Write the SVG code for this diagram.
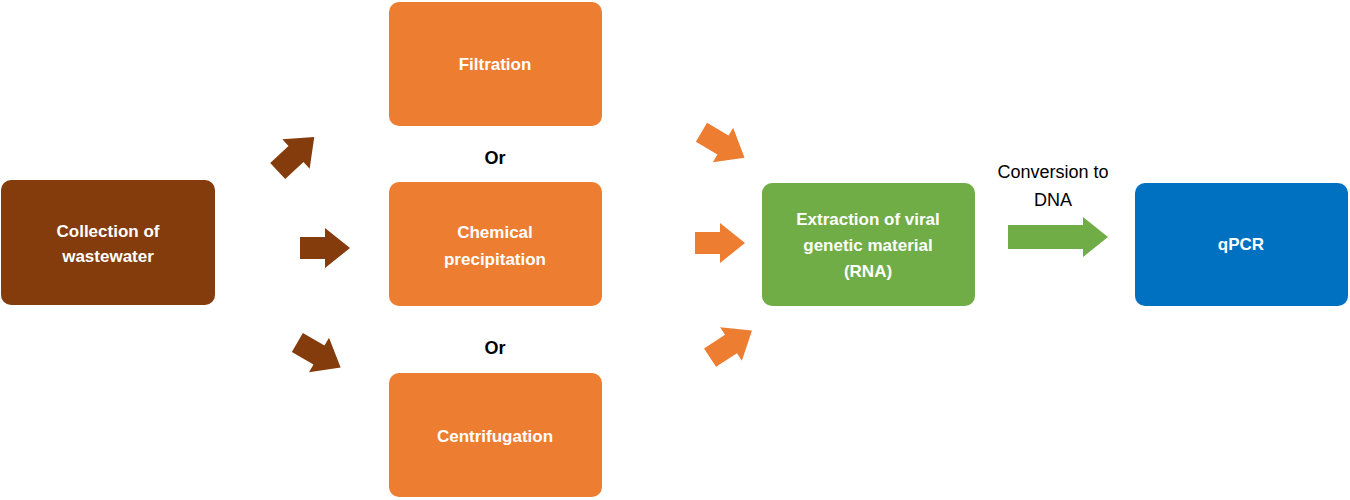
<svg xmlns="http://www.w3.org/2000/svg" width="1350" height="500" viewBox="0 0 1350 500">
<style>
.n text{font-family:"Liberation Sans",Arial,sans-serif;font-weight:bold;font-size:17px;fill:#fff;text-anchor:middle}
.t{font-family:"Liberation Sans",Arial,sans-serif;font-size:18px;fill:#000;text-anchor:middle}
.b{font-weight:bold}
</style>
<defs>
<path id="ar" d="M0,-11 H-25 V11 H0 V20 L25,0 L0,-20 Z"/>
</defs>
<g id="connectors">
<use href="#ar" fill="#843C0C" transform="translate(296,154) rotate(-43) translate(52,0) translate(-52,0) scale(1)"/>
<use href="#ar" fill="#843C0C" transform="translate(325,248)"/>
<use href="#ar" fill="#843C0C" transform="translate(319,355) rotate(30)"/>
<use href="#ar" fill="#ED7D31" transform="translate(723,145) rotate(30.5)"/>
<use href="#ar" fill="#ED7D31" transform="translate(720,243)"/>
<use href="#ar" fill="#ED7D31" transform="translate(731,344) rotate(-33)"/>
<path d="M1008,225 H1083 V217 L1108,237 L1083,257 V249 H1008 Z" fill="#70AD47"/>
</g>
<g id="collection" class="n"><rect x="1" y="180" width="214" height="125" rx="10" fill="#843C0C"/><text x="108" y="237">Collection of</text><text x="108" y="262">wastewater</text></g>
<g id="filtration" class="n"><rect x="389" y="2" width="213" height="124" rx="10" fill="#ED7D31"/><text x="495" y="70">Filtration</text></g>
<g id="chemical" class="n"><rect x="389" y="182" width="213" height="124" rx="10" fill="#ED7D31"/><text x="495" y="238">Chemical</text><text x="495" y="265">precipitation</text></g>
<g id="centrifugation" class="n"><rect x="389" y="373" width="213" height="124" rx="10" fill="#ED7D31"/><text x="495" y="442">Centrifugation</text></g>
<g id="extraction" class="n"><rect x="762" y="183" width="213" height="123" rx="10" fill="#70AD47"/><text x="868" y="225">Extraction of viral</text><text x="868" y="251">genetic material</text><text x="868" y="277">(RNA)</text></g>
<g id="qpcr" class="n"><rect x="1135" y="183" width="213" height="123" rx="10" fill="#0070C0"/><text x="1241" y="250">qPCR</text></g>
<g id="labels">
<text class="t b" x="495" y="164">Or</text>
<text class="t b" x="495" y="354">Or</text>
<text class="t" x="1053" y="178">Conversion to</text>
<text class="t" x="1053" y="206">DNA</text>
</g>
</svg>
